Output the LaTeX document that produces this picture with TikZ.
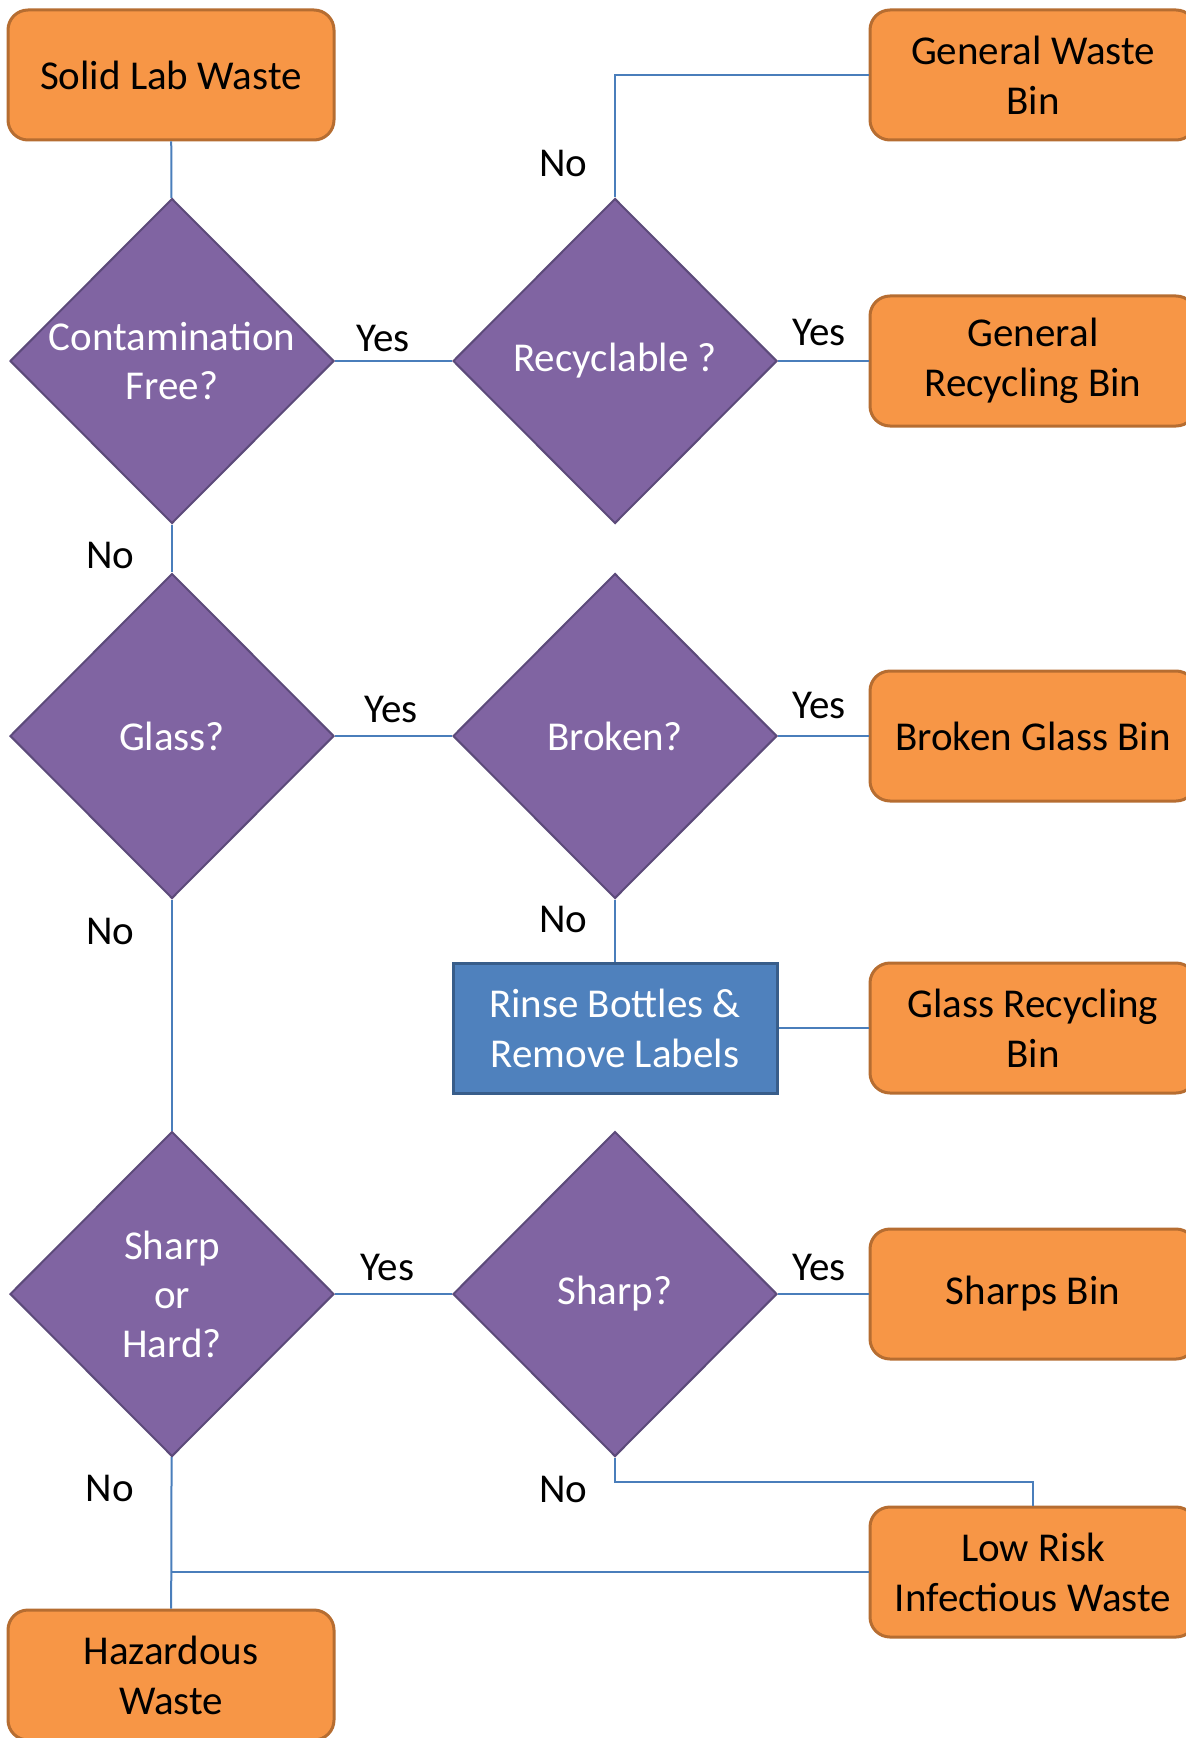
\documentclass[tikz,border=0pt]{standalone}
\usepackage{fontspec}
\setmainfont{Carlito}
\usetikzlibrary{shapes.geometric}
\definecolor{bacfond}{HTML}{F79646}
\definecolor{bacbord}{HTML}{B66D31}
\definecolor{questfond}{HTML}{8064A2}
\definecolor{questbord}{HTML}{5C4A7A}
\definecolor{actfond}{HTML}{4F81BD}
\definecolor{actbord}{HTML}{385D8A}
\definecolor{lienbleu}{HTML}{4A7EBB}
\begin{document}
\begin{tikzpicture}[x=0.5pt,y=-0.5pt]
		% définition des styles
		\tikzstyle{bac}=[rectangle,rounded corners=10pt,draw=bacbord,line width=1.5pt,fill=bacfond,text=black,minimum width=163pt,minimum height=65pt,align=center,font=\fontsize{20.5}{25}\selectfont]
		\tikzstyle{question}=[diamond,aspect=1,inner sep=-6pt,draw=questbord,line width=1pt,fill=questfond,text=white,minimum width=162pt,minimum height=162.5pt,align=center,font=\fontsize{20.5}{24.5}\selectfont]
		\tikzstyle{action}=[rectangle,draw=actbord,line width=1.5pt,fill=actfond,text=white,minimum width=162pt,minimum height=65pt,align=center,font=\fontsize{20.5}{25}\selectfont]
		\tikzstyle{lien}=[draw=lienbleu,line width=1pt]
		\tikzstyle{etiq}=[text=black,font=\fontsize{20.5}{25}\selectfont]
		\useasboundingbox (0,0) rectangle (1185,1738);
		% les nœuds
		\node[bac] (slw) at (171,75) {Solid Lab Waste};
		\node[question] (cf) at (172,361) {Contamination\\Free?};
		\node[question] (rec) at (615,361) {Recyclable ?};
		\node[bac] (gwb) at (1033,75) {General Waste\\Bin};
		\node[bac] (grb) at (1033,361) {General\\Recycling Bin};
		\node[question] (gl) at (172,736) {Glass?};
		\node[question] (br) at (615,736) {Broken?};
		\node[bac] (bgb) at (1033,736) {Broken Glass Bin};
		\node[action] (rin) at (615,1028) {Rinse Bottles \&\\Remove Labels};
		\node[bac] (grcb) at (1033,1028) {Glass Recycling\\Bin};
		\node[question] (sh) at (172,1294) {Sharp\\or\\Hard?};
		\node[question] (sp) at (615,1294) {Sharp?};
		\node[bac] (sb) at (1033,1294) {Sharps Bin};
		\node[bac] (lr) at (1033,1572) {Low Risk\\Infectious Waste};
		\node[bac] (hw) at (171,1675) {Hazardous\\Waste};
		% les liens
		\draw[lien] (slw) -- (cf);
		\draw[lien] (cf) -- (rec) node[etiq,pos=0.41,above=1pt]{Yes};
		\draw[lien] (rec.north) |- (gwb.west) node[etiq,pos=0.14,left=10pt]{No};
		\draw[lien] (rec) -- (grb) node[etiq,pos=0.45,above=4pt]{Yes};
		\draw[lien] (cf) -- (gl) node[etiq,pos=0.65,left=15pt]{No};
		\draw[lien] (gl) -- (br) node[etiq,pos=0.48,above=3pt]{Yes};
		\draw[lien] (br) -- (bgb) node[etiq,pos=0.45,above=5pt]{Yes};
		\draw[lien] (br) -- (rin) node[etiq,pos=0.33,left=10pt]{No};
		\draw[lien] (rin) -- (grcb);
		\draw[lien] (gl) -- (sh) node[etiq,pos=0.14,left=15pt]{No};
		\draw[lien] (sh) -- (sp) node[etiq,pos=0.45,above=3pt]{Yes};
		\draw[lien] (sp) -- (sb) node[etiq,pos=0.45,above=3pt]{Yes};
		\draw[lien] (sp.south) -- ++(0,24) node[etiq,pos=1,left=10pt,yshift=-4pt]{No} -| (lr.north);
		\draw[lien] (sh) -- (hw) node[etiq,pos=0.21,left=15pt]{No};
		\draw[lien] (lr.west) -- (lr.west -| hw.north);
	\end{tikzpicture}
\end{document}
